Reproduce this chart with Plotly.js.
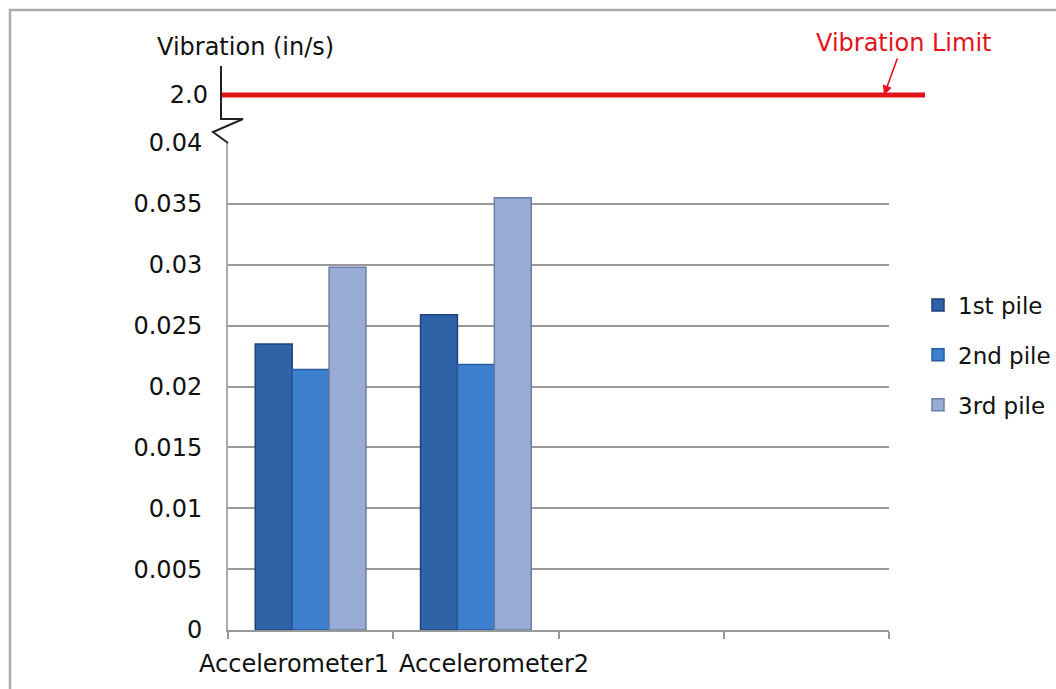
<!DOCTYPE html>
<html>
<head>
<meta charset="utf-8">
<script src="https://cdn.plot.ly/plotly-3.0.1.min.js"></script>
<style>html,body{margin:0;padding:0;background:#fff;}#chart{width:1056px;height:689px;}</style>
</head>
<body>
<div id="chart"></div>
<script>
const categories = ["Accelerometer1", "Accelerometer2"];
const emptySlots = [" ", "  "];
const seriesNames = ["1st pile", "2nd pile", "3rd pile"];
const pile1 = [0.0235, 0.0259];
const pile2 = [0.0214, 0.0218];
const pile3 = [0.0298, 0.0355];
const limitValue = 2.0;
const limitLabel = "Vibration Limit";
const yTickVals = [0, 0.005, 0.01, 0.015, 0.02, 0.025, 0.03, 0.035, 0.04];
const yTickText = ["0", "0.005", "0.01", "0.015", "0.02", "0.025", "0.03", "0.035", "0.04"];
const yTitle = "Vibration (in/s)";

const colors = ["#2f62a6", "#3d80cf", "#98acd6"];
const lineColors = ["#1d4378", "#275c9c", "#6b7fa6"];
const font = "DejaVu Sans, Verdana, sans-serif";
const FS = 24;

const seriesVals = [pile1, pile2, pile3];
const traces = seriesVals.map((vals, i) => ({
  type: "bar",
  name: seriesNames[i],
  legendgroup: "g" + i,
  x: categories,
  y: vals,
  yaxis: "y",
  marker: { color: colors[i], line: { color: lineColors[i], width: 1.5 } },
  hoverinfo: "x+y+name"
}));

// px -> paper helpers for decorations
const W = 1056, H = 689;
const L = 228, R = 889, T = 50, B = 630;
const px = p => (p - L) / (R - L);
const py = p => (B - p) / (B - T);

const layout = {
  width: W, height: H,
  margin: { l: L, r: W - R, t: T, b: H - B, autoexpand: false },
  paper_bgcolor: "#fff", plot_bgcolor: "rgba(0,0,0,0)",
  font: { family: font, size: FS, color: "#111" },
  barmode: "group", bargap: 0.33, bargroupgap: 0,
  showlegend: true,
  legend: {
    xref: "container", x: 918 / W, y: py(355), xanchor: "left", yanchor: "middle",
    font: { family: font, size: 23, color: "#111" },
    traceorder: "grouped", tracegroupgap: 17,
    itemwidth: 30, bgcolor: "rgba(0,0,0,0)"
  },
  xaxis: {
    type: "category",
    categoryorder: "array",
    categoryarray: categories.concat(emptySlots),
    range: [-0.5, 3.5],
    tickson: "boundaries",
    ticks: "outside", ticklen: 7, tickwidth: 2, tickcolor: "#999",
    showticklabels: false,
    showline: true, linecolor: "#999", linewidth: 2,
    showgrid: false, zeroline: false, fixedrange: true
  },
  yaxis: {
    domain: [0, py(143)],
    range: [0, 0.04],
    tickvals: yTickVals, ticktext: yTickText,
    ticks: "", ticklabelstandoff: 19,
    tickfont: { family: font, size: FS, color: "#111" },
    showgrid: true, gridcolor: "#999", gridwidth: 2,
    showline: true, linecolor: "#aaa", linewidth: 2,
    zeroline: false
  },
  yaxis2: {
    domain: [py(125), py(62)],
    range: [limitValue - 0.095, limitValue + 0.105],
    anchor: "x",
    tickvals: [limitValue], ticktext: [limitValue.toFixed(1)],
    ticks: "", ticklabelstandoff: 19,
    tickfont: { family: font, size: FS, color: "#111" },
    showgrid: false, showline: false, zeroline: false
  },
  shapes: [
    { type: "path", xref: "paper", yref: "paper",
      path: `M ${px(10)},${py(700)} L ${px(10)},${py(10)} L ${px(1070)},${py(10)}`,
      line: { color: "#aaa", width: 2.5 } },
    { type: "line", xref: "paper", yref: "y2", x0: px(220), x1: px(925), y0: limitValue, y1: limitValue,
      line: { color: "#e3121b", width: 5 } },
    { type: "path", xref: "paper", yref: "paper",
      path: `M ${px(221)},${py(66)} L ${px(221)},${py(119)} L ${px(243)},${py(119)} L ${px(213)},${py(132)} L ${px(228)},${py(143)}`,
      line: { color: "#222", width: 2 } }
  ],
  annotations: [
    { text: yTitle, xref: "paper", yref: "paper", x: px(245), y: py(47),
      xanchor: "center", yanchor: "middle", showarrow: false,
      font: { family: font, size: FS, color: "#111" } },
    { text: limitLabel, xref: "paper", yref: "y2", x: px(884), y: limitValue,
      ax: 19, ay: -52, showarrow: true, arrowhead: 2, arrowsize: 1.2, arrowwidth: 1.6,
      arrowcolor: "#e3121b", font: { family: font, size: FS, color: "#e3121b" } },
    ...categories.map((c, i) => ({
      text: c, xref: "x", yref: "paper", x: c, y: py(648),
      xanchor: "center", yanchor: "top", showarrow: false,
      xshift: i === 0 ? -17 : 18,
      font: { family: font, size: FS, color: "#111" }
    }))
  ]
};

Plotly.newPlot("chart", traces, layout, { displayModeBar: false, staticPlot: true });
</script>
</body>
</html>
